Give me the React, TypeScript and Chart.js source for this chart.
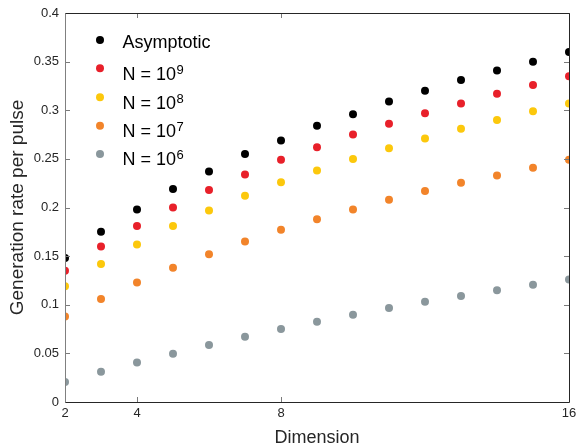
import React, { useEffect, useRef } from "react";
import { Chart, registerables } from "chart.js";

Chart.register(...registerables);

const dimensions = [2, 3, 4, 5, 6, 7, 8, 9, 10, 11, 12, 13, 14, 15, 16];
const xTicks = [2, 4, 8, 16];
const yTicks = [0, 0.05, 0.1, 0.15, 0.2, 0.25, 0.3, 0.35, 0.4];

const asymptotic = [0.148, 0.175, 0.198, 0.219, 0.237, 0.255, 0.269, 0.284, 0.296, 0.309, 0.32, 0.331, 0.341, 0.35, 0.36];
const n1e9 = [0.135, 0.16, 0.181, 0.2, 0.218, 0.234, 0.249, 0.262, 0.275, 0.286, 0.297, 0.307, 0.317, 0.326, 0.335];
const n1e8 = [0.119, 0.142, 0.162, 0.181, 0.197, 0.212, 0.226, 0.238, 0.25, 0.261, 0.271, 0.281, 0.29, 0.299, 0.307];
const n1e7 = [0.088, 0.106, 0.123, 0.138, 0.152, 0.165, 0.177, 0.188, 0.198, 0.208, 0.217, 0.2255, 0.233, 0.241, 0.249];
const n1e6 = [0.0206, 0.031, 0.0405, 0.0497, 0.0586, 0.0672, 0.075, 0.0826, 0.0898, 0.0967, 0.103, 0.109, 0.115, 0.1206, 0.126];

const seriesBase = ["Asymptotic", "N = 10", "N = 10", "N = 10", "N = 10"];
const seriesSup = ["", "9", "8", "7", "6"];
const seriesValues = [asymptotic, n1e9, n1e8, n1e7, n1e6];
const seriesColors = ["#000000", "#e8202a", "#fcc80c", "#f2842a", "#8a979c"];

const FONT = "'Liberation Sans', Arial, Helvetica, sans-serif";

// legend row offsets (from plot-area top) and text baseline offsets
const legendRowY = [27, 55.3, 84.3, 112.7, 141];
const legendBaseDy = [8.3, 11.5, 11.5, 11.5, 11.3];

const framePlugin = {
  id: "frame",
  afterDraw(chart: any) {
    const ctx = chart.ctx;
    const { left, right, top, bottom } = chart.chartArea;
    const xs = chart.scales.x;
    const ys = chart.scales.y;
    ctx.save();
    ctx.lineWidth = 1;
    ctx.strokeStyle = "#7a7a7a";
    const tl = 5;
    for (const v of xTicks) {
      const px = Math.round(xs.getPixelForValue(v)) + 0.5;
      ctx.beginPath();
      ctx.moveTo(px, bottom);
      ctx.lineTo(px, bottom - tl);
      ctx.moveTo(px, top);
      ctx.lineTo(px, top + tl);
      ctx.stroke();
    }
    for (const v of yTicks) {
      const py = Math.round(ys.getPixelForValue(v)) + 0.5;
      ctx.beginPath();
      ctx.moveTo(left, py);
      ctx.lineTo(left + tl, py);
      ctx.moveTo(right, py);
      ctx.lineTo(right - tl, py);
      ctx.stroke();
    }
    const L = Math.round(left) + 0.5;
    const R = Math.round(right) + 0.5;
    const T = Math.round(top) + 0.5;
    const B = Math.round(bottom) + 0.5;
    ctx.strokeStyle = "#262626";
    ctx.beginPath();
    ctx.moveTo(L, T);
    ctx.lineTo(R, T);
    ctx.lineTo(R, B);
    ctx.lineTo(L, B);
    ctx.stroke();
    ctx.strokeStyle = "#808080";
    ctx.beginPath();
    ctx.moveTo(L, T);
    ctx.lineTo(L, B);
    ctx.stroke();

    // legend
    const mx = left + 35;
    const tx = left + 57.5;
    for (let i = 0; i < seriesBase.length; i++) {
      const y = top + legendRowY[i];
      ctx.fillStyle = seriesColors[i];
      ctx.beginPath();
      ctx.arc(mx, y, 4, 0, Math.PI * 2);
      ctx.fill();
      ctx.fillStyle = "#000000";
      ctx.textBaseline = "alphabetic";
      ctx.textAlign = "left";
      ctx.font = `18px ${FONT}`;
      const base = seriesBase[i];
      const by = y + legendBaseDy[i];
      ctx.fillText(base, tx, by);
      if (seriesSup[i]) {
        const w = ctx.measureText(base).width;
        ctx.font = `13px ${FONT}`;
        ctx.fillText(seriesSup[i], tx + w + 0.5, by - 6);
      }
    }
    ctx.restore();
  },
};

export default function App() {
  const ref = useRef<HTMLCanvasElement>(null);
  useEffect(() => {
    if (!ref.current) return;
    const chart = new Chart(ref.current, {
      type: "scatter",
      data: {
        datasets: seriesValues.map((vals, i) => ({
          label: seriesBase[i] + seriesSup[i],
          data: dimensions.map((d, j) => ({ x: d, y: vals[j] })),
          backgroundColor: seriesColors[i],
          borderColor: seriesColors[i],
          borderWidth: 0,
          pointRadius: 4,
        })),
      },
      options: {
        responsive: false,
        animation: false,
        layout: { padding: { top: 13, right: 7, left: 0, bottom: 0 } },
        plugins: { legend: { display: false }, tooltip: { enabled: false } },
        scales: {
          x: {
            type: "linear",
            min: 2,
            max: 16,
            afterBuildTicks: (axis: any) => {
              axis.ticks = xTicks.map((v) => ({ value: v }));
            },
            afterFit: (axis: any) => {
              axis.height = 43;
              axis.paddingLeft = 0;
              axis.paddingRight = 0;
            },
            grid: { display: false, drawTicks: false },
            border: { display: false },
            ticks: {
              color: "#262626",
              font: { family: FONT, size: 13 },
              padding: 4,
              maxRotation: 0,
              autoSkip: false,
            },
            title: {
              display: true,
              text: "Dimension",
              color: "#262626",
              font: { family: FONT, size: 18, lineHeight: 1 },
              padding: { top: 0, bottom: -2 },
            },
          },
          y: {
            min: 0,
            max: 0.4,
            afterBuildTicks: (axis: any) => {
              axis.ticks = yTicks.map((v) => ({ value: v }));
            },
            afterFit: (axis: any) => {
              axis.width = 65;
              axis.paddingTop = 0;
              axis.paddingBottom = 0;
            },
            grid: { display: false, drawTicks: false },
            border: { display: false },
            ticks: {
              color: "#262626",
              font: { family: FONT, size: 13 },
              padding: 6,
              callback: (v: any) => String(Math.round(Number(v) * 100) / 100),
            },
            title: {
              display: true,
              text: "Generation rate per pulse",
              color: "#262626",
              font: { family: FONT, size: 19, lineHeight: 1 },
              padding: { top: 8.5, bottom: 0 },
            },
          },
        },
      },
      plugins: [framePlugin],
    } as any);
    return () => chart.destroy();
  }, []);
  return (
    <div style={{ position: "absolute", left: 0, top: 0, width: 576, height: 445, background: "#fff" }}>
      <canvas ref={ref} width={576} height={445} style={{ width: 576, height: 445 }} />
    </div>
  );
}
